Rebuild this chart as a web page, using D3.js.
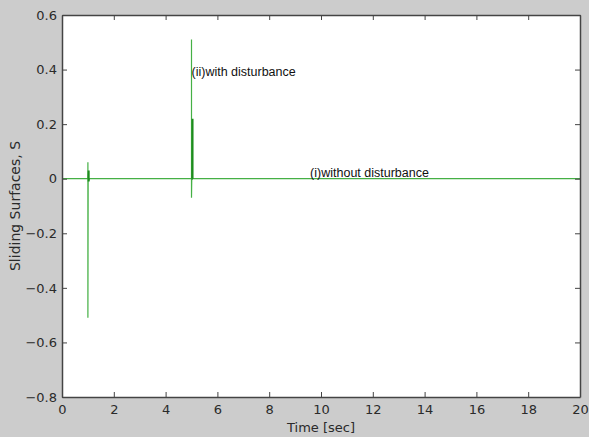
<!DOCTYPE html>
<html>
<head>
<meta charset="utf-8">
<script src="https://cdn.jsdelivr.net/npm/d3@7"></script>
<style>
  body { margin: 0; background: #cccccc; }
  svg { display: block; font-family: "DejaVu Sans", sans-serif; }
</style>
</head>
<body>
<svg width="589" height="437"></svg>
<script>
'use strict';

// series (null = gap in the line)
const lightTime = [0, 1.0, 1.0, 1.0, 1.01, 5.0, 5.0, 5.0, 5.01, 20]
const lightS = [0, 0, 0.06, -0.51, 0, 0, 0.51, -0.07, 0, 0]
const darkTime = [1.02, 1.03, 1.03, 1.04, 1.05, 5.03, 5.04, 5.04, 5.05]
const darkS = [0, 0.03, -0.01, 0, null, 0, 0.22, 0, 0]

const xTicks = [0, 2, 4, 6, 8, 10, 12, 14, 16, 18, 20]
const yTicks = [-0.8, -0.6, -0.4, -0.2, 0, 0.2, 0.4, 0.6]

const labels = [
  { t: 5.0, s: 0.375, text: '(ii)with disturbance' },
  { t: 9.58, s: 0.008, text: '(i)without disturbance' }
]

const svg = d3.select('svg')
const m = { left: 62, right: 9, top: 15, bottom: 40 }
const W = 589, H = 437

const x = d3.scaleLinear().domain([0, 20]).range([m.left, W - m.right])
const y = d3.scaleLinear().domain([-0.8, 0.6]).range([H - m.bottom, m.top])

svg.append('rect')
  .attr('x', m.left).attr('y', m.top)
  .attr('width', W - m.left - m.right).attr('height', H - m.top - m.bottom)
  .style('fill', 'white')

const line = d3.line()
  .defined((d) => d[1] != null)
  .x((d) => x(d[0])).y((d) => y(d[1]))

svg.append('path')
  .datum(lightTime.map((t, i) => [t, lightS[i]]))
  .attr('d', line)
  .style('fill', 'none')
  .style('stroke', '#45b045')
  .style('stroke-width', '1.2px')

svg.append('path')
  .datum(darkTime.map((t, i) => [t, darkS[i]]))
  .attr('d', line)
  .style('fill', 'none')
  .style('stroke', '#1e8c1e')
  .style('stroke-width', '2px')

const fmt = (d) => d === 0 ? '0' : d3.format('.1f')(d)

const gx = svg.append('g').attr('transform', `translate(0,${H - m.bottom})`)
  .call(d3.axisBottom(x).tickValues(xTicks).tickSizeInner(-5).tickSizeOuter(0).tickPadding(6))
const gy = svg.append('g').attr('transform', `translate(${m.left},0)`)
  .call(d3.axisLeft(y).tickValues(yTicks).tickFormat(fmt).tickSizeInner(-5).tickSizeOuter(0).tickPadding(5))
const gt = svg.append('g').attr('transform', `translate(0,${m.top})`)
  .call(d3.axisTop(x).tickValues(xTicks).tickSizeInner(-5).tickSizeOuter(0).tickFormat(''))
const gr = svg.append('g').attr('transform', `translate(${W - m.right},0)`)
  .call(d3.axisRight(y).tickValues(yTicks).tickSizeInner(-5).tickSizeOuter(0).tickFormat(''))

;[gx, gy, gt, gr].forEach((g) => {
  g.select('.domain').style('stroke', '#444').style('stroke-width', '1.5px')
  g.selectAll('.tick line').style('stroke', '#444')
  g.selectAll('.tick text')
    .style('font-size', '13px')
    .style('font-family', '"DejaVu Sans", sans-serif')
    .style('fill', '#2a2a2a')
})
gx.selectAll('.tick text').attr('dy', '0.85em')

svg.selectAll('text.note')
  .data(labels)
  .enter()
  .append('text')
  .classed('note', true)
  .attr('x', (d) => x(d.t))
  .attr('y', (d) => y(d.s))
  .style('font-family', '"Liberation Sans", Arial, sans-serif')
  .style('font-size', '12.5px')
  .style('fill', '#111')
  .text((d) => d.text)

svg.append('text')
  .attr('x', x(10))
  .attr('y', 432)
  .attr('text-anchor', 'middle')
  .style('font-size', '13px')
  .style('fill', '#2a2a2a')
  .text('Time [sec]')

svg.append('text')
  .attr('transform', `translate(20,${y(-0.1)}) rotate(-90)`)
  .attr('text-anchor', 'middle')
  .style('font-size', '14px')
  .style('fill', '#2a2a2a')
  .text('Sliding Surfaces, S')
</script>
</body>
</html>
